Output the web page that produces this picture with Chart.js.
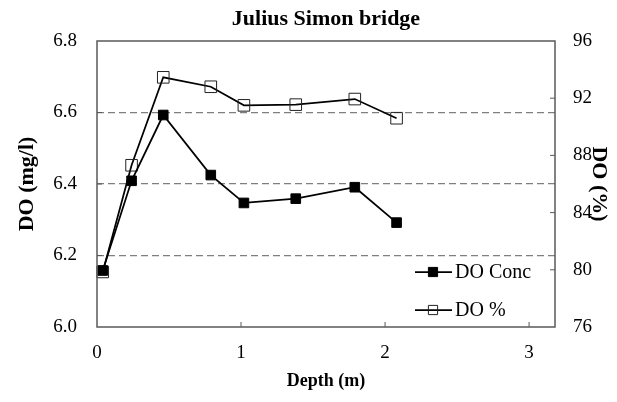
<!DOCTYPE html>
<html>
<head>
<meta charset="utf-8">
<title>Julius Simon bridge</title>
<script src="https://cdn.jsdelivr.net/npm/chart.js@4.4.1/dist/chart.umd.min.js"></script>
<style>
  html, body { margin: 0; padding: 0; background: #fff; }
  #wrap { width: 617px; height: 402px; }
</style>
</head>
<body>
<div id="wrap"><canvas id="chart" width="617" height="402"></canvas></div>
<script>
'use strict';

// Sample depths (m), shared by both series.
const depths = [0.04, 0.24, 0.46, 0.79, 1.02, 1.38, 1.79, 2.08];
// Dissolved oxygen concentration (mg/l), left axis.
const doConc = [6.158, 6.409, 6.593, 6.425, 6.347, 6.359, 6.391, 6.292];
// Dissolved oxygen saturation (%), right axis.
const doPct = [79.85, 87.31, 93.46, 92.8, 91.5, 91.55, 91.94, 90.6];

// Tick values for the 3 axes.
const xTicks = [0, 1, 2, 3];
const leftTicks = [6.0, 6.2, 6.4, 6.6, 6.8];
const rightTicks = [76, 80, 84, 88, 92, 96];

const titleText = 'Julius Simon bridge';
const serif = '"Liberation Serif", "Times New Roman", Times, serif';
const axisColor = '#595959';

function toPoints(ys) {
  return depths.map((d, i) => ({x: d, y: ys[i]}));
}

function fixedTicks(values) {
  return (scale) => {
    scale.ticks = values.map(v => ({value: v}));
  };
}

// Box round the plot, inward tick marks, title over the plot
// and the legend inside the plot.
const framePlugin = {
  id: 'frame',
  afterDatasetsDraw(chart) {
    const {ctx, chartArea: a, scales} = chart;
    ctx.save();
    ctx.strokeStyle = axisColor;
    ctx.lineWidth = 1.5;
    ctx.strokeRect(a.left, a.top, a.right - a.left, a.bottom - a.top);

    ctx.lineWidth = 1;
    ctx.beginPath();
    xTicks.slice(1).forEach(v => {
      const x = scales.x.getPixelForValue(v);
      ctx.moveTo(x, a.bottom);
      ctx.lineTo(x, a.bottom - 5);
    });
    rightTicks.slice(1, -1).forEach(v => {
      const y = scales.y1.getPixelForValue(v);
      ctx.moveTo(a.right, y);
      ctx.lineTo(a.right - 5, y);
    });
    leftTicks.slice(1, -1).forEach(v => {
      const y = scales.y.getPixelForValue(v);
      ctx.moveTo(a.left, y);
      ctx.lineTo(a.left + 5, y);
    });
    ctx.stroke();

    // Title, centred over the plot area
    ctx.fillStyle = '#000';
    ctx.font = 'bold 22px ' + serif;
    ctx.textAlign = 'center';
    ctx.textBaseline = 'middle';
    ctx.fillText(titleText, (a.left + a.right) / 2, 19);

    // Legend
    const x0 = a.right - 140;
    const rows = [a.bottom - 55, a.bottom - 17];
    chart.data.datasets.forEach((ds, i) => {
      const y = rows[i];
      ctx.strokeStyle = ds.borderColor;
      ctx.lineWidth = ds.borderWidth;
      ctx.beginPath();
      ctx.moveTo(x0, y);
      ctx.lineTo(x0 + 37, y);
      ctx.stroke();
      ctx.strokeStyle = ds.pointBorderColor;
      ctx.fillStyle = ds.pointBackgroundColor;
      ctx.lineWidth = 1;
      Chart.helpers.drawPoint(ctx, {pointStyle: 'rect', radius: 6.5, borderWidth: 1}, x0 + 18, y);
      ctx.fillStyle = '#000';
      ctx.font = '20px ' + serif;
      ctx.textAlign = 'left';
      ctx.textBaseline = 'middle';
      ctx.fillText(ds.label, x0 + 40, y + 1);
    });
    ctx.restore();
  }
};

const chart = new Chart(document.getElementById('chart'), {
  type: 'line',
  data: {
    datasets: [
      {
        label: 'DO Conc',
        data: toPoints(doConc),
        yAxisID: 'y',
        borderColor: '#000',
        borderWidth: 1.75,
        pointStyle: 'rect',
        pointRadius: 6.8,
        pointBackgroundColor: '#000',
        pointBorderColor: '#000',
        pointBorderWidth: 1,
        tension: 0,
        clip: false
      },
      {
        label: 'DO %',
        data: toPoints(doPct),
        yAxisID: 'y1',
        borderColor: '#000',
        borderWidth: 1.75,
        pointStyle: 'rect',
        pointRadius: 8.2,
        pointBackgroundColor: 'rgba(0,0,0,0)',
        pointBorderColor: '#222',
        pointBorderWidth: 1,
        tension: 0,
        clip: false
      }
    ]
  },
  options: {
    responsive: false,
    animation: false,
    layout: {padding: {top: 41}},
    plugins: {
      legend: {display: false},
      tooltip: {enabled: false},
      title: {display: false}
    },
    scales: {
      x: {
        type: 'linear',
        min: 0,
        max: 3.18,
        afterBuildTicks: fixedTicks(xTicks),
        afterFit: (s) => { s.height = 75; },
        grid: {display: false, drawTicks: false},
        border: {display: false},
        ticks: {color: '#000', padding: 15, font: {family: serif, size: 19}},
        title: {
          display: true,
          text: 'Depth (m)',
          color: '#000',
          font: {family: serif, size: 18, weight: 'bold'},
          padding: {top: 0, bottom: 10}
        }
      },
      y: {
        position: 'left',
        min: 6.0,
        max: 6.8,
        afterBuildTicks: fixedTicks(leftTicks),
        afterFit: (s) => { s.width = 97; },
        grid: {
          drawTicks: false,
          lineWidth: 1.2,
          color: (c) => (c.tick && c.tick.value > 6.05 && c.tick.value < 6.75) ? '#7f7f7f' : 'rgba(0,0,0,0)'
        },
        border: {display: false, dash: [7, 4]},
        ticks: {
          color: '#000',
          padding: 20,
          font: {family: serif, size: 19},
          callback: (v) => Number(v).toFixed(1)
        },
        title: {
          display: true,
          text: 'DO (mg/l)',
          color: '#000',
          font: {family: serif, size: 22, weight: 'bold'},
          padding: {top: 14, bottom: 0}
        }
      },
      y1: {
        position: 'right',
        min: 76,
        max: 96,
        afterBuildTicks: fixedTicks(rightTicks),
        afterFit: (s) => { s.width = 62; },
        grid: {display: false, drawTicks: false},
        border: {display: false},
        ticks: {color: '#000', padding: 18, font: {family: serif, size: 19}},
        title: {
          display: true,
          text: 'DO (%)',
          color: '#000',
          font: {family: serif, size: 22, weight: 'bold'},
          padding: {top: 5, bottom: 0}
        }
      }
    }
  },
  plugins: [framePlugin]
});
</script>
</body>
</html>
